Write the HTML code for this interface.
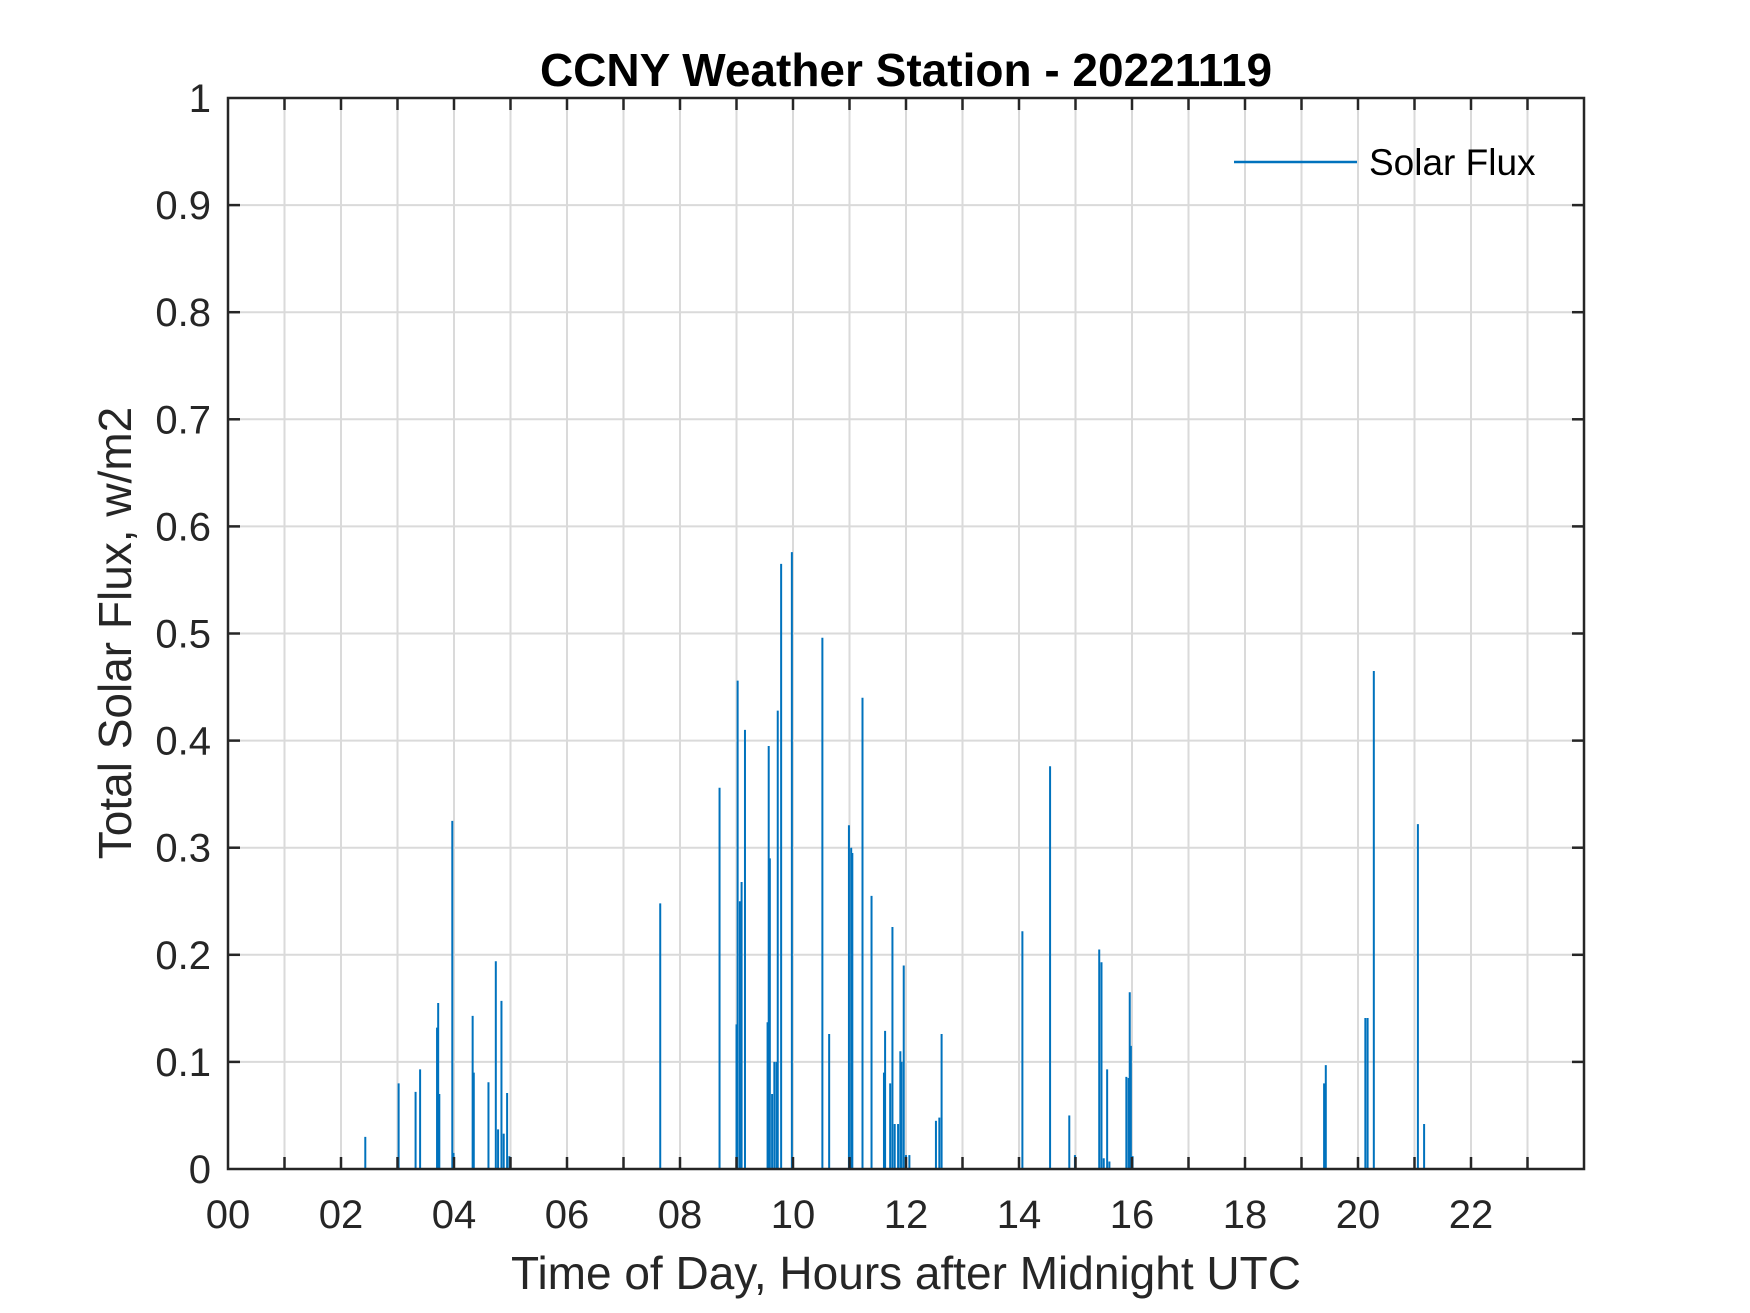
<!DOCTYPE html>
<html><head><meta charset="utf-8"><style>
body{margin:0;background:#fff;}
svg{display:block;font-family:"Liberation Sans",Arial,sans-serif;}
</style></head><body>
<svg id="chart" width="1750" height="1313" viewBox="0 0 1750 1313" xmlns="http://www.w3.org/2000/svg">
<rect width="1750" height="1313" fill="#fff"/>
<g id="grid"></g>
<g id="bars"></g>
<g id="axes"></g>
<text x="906" y="86" text-anchor="middle" font-size="46" font-weight="bold" fill="#000">CCNY Weather Station - 20221119</text>
<text x="906" y="1289" text-anchor="middle" font-size="46" fill="#262626">Time of Day, Hours after Midnight UTC</text>
<text transform="translate(131,633) rotate(-90)" text-anchor="middle" font-size="46" fill="#262626">Total Solar Flux, w/m2</text>
<g>
<line x1="1234" y1="162" x2="1357" y2="162" stroke="#0072BD" stroke-width="2.5"/>
<text x="1369" y="175" font-size="37" fill="#000">Solar Flux</text>
</g>
</svg>
<script>
const hours=[2.43,3.02,3.32,3.40,3.70,3.72,3.74,3.97,3.99,4.33,4.35,4.61,4.74,4.78,4.84,4.88,4.94,4.98,7.65,8.70,9.00,9.02,9.06,9.09,9.15,9.55,9.57,9.59,9.63,9.67,9.71,9.73,9.79,9.98,10.52,10.64,10.99,11.03,11.05,11.23,11.39,11.61,11.63,11.72,11.76,11.80,11.86,11.90,11.92,11.96,12.00,12.06,12.53,12.59,12.63,14.06,14.55,14.89,14.99,15.42,15.46,15.50,15.56,15.60,15.90,15.94,15.96,15.98,16.01,19.40,19.43,20.13,20.17,20.28,21.06,21.17];
const flux=[0.03,0.08,0.072,0.093,0.132,0.155,0.07,0.325,0.015,0.143,0.09,0.081,0.194,0.037,0.157,0.033,0.071,0.012,0.248,0.356,0.135,0.456,0.25,0.268,0.41,0.137,0.395,0.29,0.07,0.1,0.1,0.428,0.565,0.576,0.496,0.126,0.321,0.30,0.295,0.44,0.255,0.09,0.129,0.08,0.226,0.042,0.042,0.11,0.1,0.19,0.013,0.013,0.045,0.048,0.126,0.222,0.376,0.05,0.013,0.205,0.193,0.01,0.093,0.007,0.086,0.085,0.165,0.115,0.012,0.08,0.097,0.141,0.141,0.465,0.322,0.042];
const xTickLabels=["00","02","04","06","08","10","12","14","16","18","20","22"];
const yTickLabels=["0","0.1","0.2","0.3","0.4","0.5","0.6","0.7","0.8","0.9","1"];
const L=228,R=1584,T=98,B=1169,XMAX=24,YMAX=1;
const sx=h=>L+(R-L)*h/XMAX, sy=v=>B-(B-T)*v/YMAX;
const NS="http://www.w3.org/2000/svg";
function mk(tag,attrs,parent){const e=document.createElementNS(NS,tag);for(const k in attrs)e.setAttribute(k,attrs[k]);parent.appendChild(e);return e;}
const grid=document.getElementById('grid'),bars=document.getElementById('bars'),axes=document.getElementById('axes');
for(let h=1;h<XMAX;h++){
 const g=mk('line',{x1:sx(h),x2:sx(h),y1:T,y2:B,stroke:'#dadada','stroke-width':2},grid);
 
 
 for(const [a,b] of [[B,B-12],[T,T+12]]){
  const t=mk('line',{x1:sx(h),x2:sx(h),y1:a,y2:b,stroke:'#262626','stroke-width':2.5},axes);
  
  
 }
}
for(let i=1;i<yTickLabels.length-1;i++){
 const v=i/10;
 const g=mk('line',{x1:L,x2:R,y1:sy(v),y2:sy(v),stroke:'#dadada','stroke-width':2},grid);
 
 
 for(const [a,b] of [[L,L+12],[R,R-12]]){
  const t=mk('line',{x1:a,x2:b,y1:sy(v),y2:sy(v),stroke:'#262626','stroke-width':2.5},axes);
  
  
 }
}
hours.forEach((h,i)=>{
 const b=mk('line',{x1:sx(h),x2:sx(h),y1:B,y2:sy(flux[i]),stroke:'#0072BD','stroke-width':2},bars);
 
 
});
const box=mk('rect',{x:L,y:T,width:R-L,height:B-T,fill:'none',stroke:'#262626','stroke-width':2.5},axes);


xTickLabels.forEach((s,i)=>{
 const t=mk('text',{x:sx(i*2),y:1228,'text-anchor':'middle','font-size':40,fill:'#262626'},axes);
 t.textContent=s;
 
 
});
yTickLabels.forEach((s,i)=>{
 const t=mk('text',{x:211,y:sy(i/10)+14,'text-anchor':'end','font-size':40,fill:'#262626'},axes);
 t.textContent=s;
 
 
});
</script>
</body></html>
